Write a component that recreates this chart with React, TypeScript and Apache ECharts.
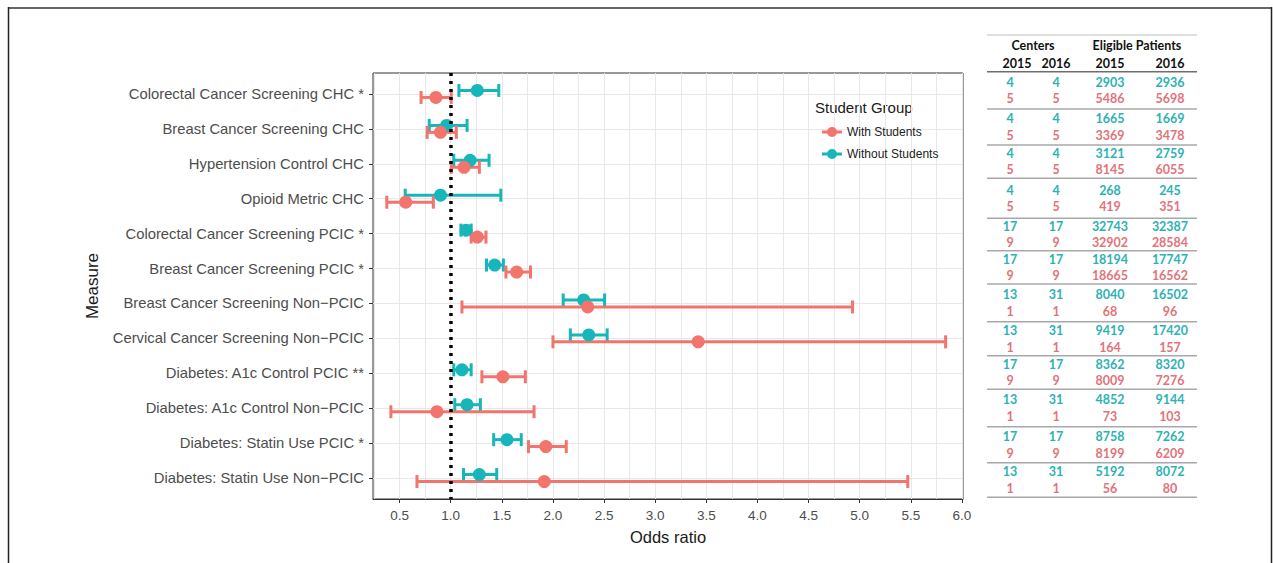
import React, { useEffect, useRef } from "react";
import * as echarts from "echarts";

// ---------- data ----------
const categories = [
  "Colorectal Cancer Screening CHC *",
  "Breast Cancer Screening CHC",
  "Hypertension Control CHC",
  "Opioid Metric CHC",
  "Colorectal Cancer Screening PCIC *",
  "Breast Cancer Screening PCIC *",
  "Breast Cancer Screening Non\u2212PCIC",
  "Cervical Cancer Screening Non\u2212PCIC",
  "Diabetes: A1c Control PCIC **",
  "Diabetes: A1c Control Non\u2212PCIC",
  "Diabetes: Statin Use PCIC *",
  "Diabetes: Statin Use Non\u2212PCIC",
];

const withOR = [0.855, 0.9, 1.13, 0.56, 1.26, 1.645, 2.34, 3.42, 1.51, 0.865, 1.93, 1.915];
const withLo = [0.71, 0.77, 1.005, 0.375, 1.2, 1.54, 1.11, 2.0, 1.305, 0.415, 1.76, 0.67];
const withHi = [1.005, 1.055, 1.28, 0.83, 1.345, 1.78, 4.93, 5.84, 1.73, 1.815, 2.13, 5.47];

const withoutOR = [1.26, 0.96, 1.19, 0.9, 1.15, 1.43, 2.3, 2.35, 1.11, 1.16, 1.55, 1.28];
const withoutLo = [1.08, 0.79, 1.03, 0.555, 1.1, 1.35, 2.1, 2.17, 1.03, 1.04, 1.42, 1.125];
const withoutHi = [1.47, 1.16, 1.375, 1.49, 1.2, 1.515, 2.505, 2.53, 1.2, 1.29, 1.69, 1.45];

const xTicks = [0.5, 1.0, 1.5, 2.0, 2.5, 3.0, 3.5, 4.0, 4.5, 5.0, 5.5, 6.0];
const xGridValues = [0.25, 0.5, 0.75, 1.0, 1.25, 1.5, 1.75, 2.0, 2.25, 2.5, 2.75, 3.0, 3.25, 3.5, 3.75, 4.0, 4.25, 4.5, 4.75, 5.0, 5.25, 5.5, 5.75, 6.0];

// table
const tableHeaderGroups = ["Centers", "Eligible Patients"];
const tableHeaderYears = ["2015", "2016", "2015", "2016"];
const centers2015Without = [4, 4, 4, 4, 17, 17, 13, 13, 17, 13, 17, 13];
const centers2016Without = [4, 4, 4, 4, 17, 17, 31, 31, 17, 31, 17, 31];
const patients2015Without = [2903, 1665, 3121, 268, 32743, 18194, 8040, 9419, 8362, 4852, 8758, 5192];
const patients2016Without = [2936, 1669, 2759, 245, 32387, 17747, 16502, 17420, 8320, 9144, 7262, 8072];
const centers2015With = [5, 5, 5, 5, 9, 9, 1, 1, 9, 1, 9, 1];
const centers2016With = [5, 5, 5, 5, 9, 9, 1, 1, 9, 1, 9, 1];
const patients2015With = [5486, 3369, 8145, 419, 32902, 18665, 68, 164, 8009, 73, 8199, 56];
const patients2016With = [5698, 3478, 6055, 351, 28584, 16562, 96, 157, 7276, 103, 6209, 80];

// ---------- layout / style ----------
const RED = "#F2746C";
const TEAL = "#17B6BA";
const RED_T = "#E2737A";
const TEAL_T = "#2DB2B4";
const DODGE = 0.1;
const CAP = 6.5;

const TABLE_LEFT = 987;
const TABLE_RIGHT = 1197;
const TABLE_TOP_RULE = 35;
const TABLE_HEAD_RULE = 71.7;
const TABLE_RULES = [109, 145, 178.3, 218.3, 250.7, 284, 321.7, 355.7, 389.3, 426.7, 462.7, 497.3];
const TABLE_COLS = [1010, 1056, 1110, 1170];
const TABLE_HEAD_COLS = [1017, 1056, 1110, 1170];
const TABLE_GROUP_X = [1033, 1137];

function errorBarSeries(name: string, lo: number[], hi: number[], color: string, offset: number) {
  return {
    name,
    type: "custom",
    xAxisIndex: 0,
    yAxisIndex: 0,
    z: 3,
    data: lo.map((l, i) => [l, hi[i], i + offset]),
    encode: { x: [0, 1], y: 2 },
    renderItem: (params: any, api: any) => {
      const a = api.coord([api.value(0), api.value(2)]);
      const b = api.coord([api.value(1), api.value(2)]);
      const st = { stroke: color, lineWidth: 3 };
      return {
        type: "group",
        children: [
          { type: "line", shape: { x1: a[0], y1: a[1], x2: b[0], y2: b[1] }, style: st },
          { type: "line", shape: { x1: a[0], y1: a[1] - CAP, x2: a[0], y2: a[1] + CAP }, style: st },
          { type: "line", shape: { x1: b[0], y1: b[1] - CAP, x2: b[0], y2: b[1] + CAP }, style: st },
        ],
      };
    },
  };
}

function buildTable() {
  const els: any[] = [];
  const numFont = { fontFamily: "Lato", fontWeight: "bold", fontSize: 12.5 };
  const headFont = { fontFamily: "Lato", fontWeight: "bold", fontSize: 12.5 };
  const line = (y: number, stroke: string, w: number) => ({
    type: "line",
    shape: { x1: TABLE_LEFT, y1: y, x2: TABLE_RIGHT, y2: y },
    style: { stroke, lineWidth: w },
  });
  els.push(line(TABLE_TOP_RULE, "#bdbdbd", 1));
  els.push(line(TABLE_HEAD_RULE, "#6e6e6e", 1.5));
  TABLE_RULES.forEach((y) => els.push(line(y, "#a8a8a8", 1.5)));
  tableHeaderGroups.forEach((t, i) =>
    els.push({
      type: "text",
      style: { text: t, x: TABLE_GROUP_X[i], y: 45, align: "center", verticalAlign: "middle", fill: "#111", ...headFont },
    })
  );
  tableHeaderYears.forEach((t, i) =>
    els.push({
      type: "text",
      style: { text: t, x: TABLE_HEAD_COLS[i], y: 63, align: "center", verticalAlign: "middle", fill: "#111", ...headFont },
    })
  );
  const rowsWithout = [centers2015Without, centers2016Without, patients2015Without, patients2016Without];
  const rowsWith = [centers2015With, centers2016With, patients2015With, patients2016With];
  categories.forEach((_, r) => {
    const prev = r === 0 ? TABLE_HEAD_RULE : TABLE_RULES[r - 1];
    const mid = (prev + TABLE_RULES[r]) / 2;
    rowsWithout.forEach((col, c) =>
      els.push({
        type: "text",
        style: { text: String(col[r]), x: TABLE_COLS[c], y: mid - 8.3, align: "center", verticalAlign: "middle", fill: TEAL_T, ...numFont },
      })
    );
    rowsWith.forEach((col, c) =>
      els.push({
        type: "text",
        style: { text: String(col[r]), x: TABLE_COLS[c], y: mid + 8.3, align: "center", verticalAlign: "middle", fill: RED_T, ...numFont },
      })
    );
  });
  return els;
}

export default function App() {
  const ref = useRef<HTMLDivElement>(null);
  useEffect(() => {
    document.body.style.margin = "0";
    const chart = echarts.init(ref.current!, null, { renderer: "svg" });
    const legendIcon =
      "path://M0,3.5 L20,3.5 L20,6.5 L0,6.5 Z M15,5 A5,5 0 1,1 5,5 A5,5 0 1,1 15,5 Z";
    chart.setOption({
      animation: false,
      backgroundColor: "#fff",
      textStyle: { fontFamily: "Liberation Sans" },
      grid: {
        left: 373,
        right: 1273 - 963,
        top: 73,
        bottom: 563 - 499,
        show: true,
        borderColor: "#333",
        borderWidth: 1,
        backgroundColor: "#fff",
      },
      xAxis: [
        {
          type: "value",
          min: 0.24,
          max: 6.01,
          position: "bottom",
          axisLine: { show: false },
          axisTick: { show: false, customValues: xGridValues },
          axisLabel: { show: false },
          splitLine: { show: true, lineStyle: { color: "#E8E8E8", width: 1 } },
        },
        {
          type: "value",
          min: 0.24,
          max: 6.01,
          position: "bottom",
          name: "Odds ratio",
          nameLocation: "middle",
          nameGap: 29,
          nameTextStyle: { fontSize: 16.5, color: "#1a1a1a", fontFamily: "Liberation Sans" },
          axisLine: { show: true, onZero: false, lineStyle: { color: "#333", width: 1 } },
          axisTick: { show: true, length: 4, customValues: xTicks, lineStyle: { color: "#333" } },
          axisLabel: {
            show: true,
            customValues: xTicks,
            margin: 9,
            fontSize: 13.5,
            color: "#4D4D4D",
            formatter: (v: number) => v.toFixed(1),
          },
          splitLine: { show: false },
        },
      ],
      yAxis: {
        type: "value",
        min: -0.6,
        max: 11.6,
        inverse: true,
        name: "Measure",
        nameLocation: "middle",
        nameGap: 272,
        nameRotate: 90,
        nameTextStyle: { fontSize: 17, color: "#1a1a1a", fontFamily: "Liberation Sans" },
        axisLine: { show: false },
        axisTick: { show: true, length: 4, customValues: categories.map((_, i) => i), lineStyle: { color: "#333" } },
        axisLabel: {
          customValues: categories.map((_, i) => i),
          margin: 9,
          fontSize: 14.8,
          color: "#4D4D4D",
          formatter: (v: number) => categories[Math.round(v)] ?? "",
        },
        splitLine: { show: true, lineStyle: { color: "#E8E8E8", width: 1 } },
      },
      legend: {
        left: 817,
        top: 120,
        orient: "vertical",
        itemWidth: 20,
        itemHeight: 10,
        itemGap: 8,
        icon: legendIcon,
        data: [
          { name: "With Students", itemStyle: { color: RED } },
          { name: "Without Students", itemStyle: { color: TEAL } },
        ],
        textStyle: { fontSize: 12, color: "#222", fontFamily: "Liberation Sans", lineHeight: 14 },
        selectedMode: false,
      },
      series: [
        errorBarSeries("Without Students", withoutLo, withoutHi, TEAL, -DODGE),
        errorBarSeries("With Students", withLo, withHi, RED, DODGE),
        {
          name: "Without Students",
          type: "scatter",
          symbol: "circle",
          symbolSize: 13,
          z: 4,
          itemStyle: { color: TEAL, opacity: 1 },
          data: withoutOR.map((v, i) => [v, i - DODGE]),
        },
        {
          name: "With Students",
          type: "scatter",
          symbol: "circle",
          symbolSize: 13,
          z: 5,
          itemStyle: { color: RED, opacity: 1 },
          data: withOR.map((v, i) => [v, i + DODGE]),
          markLine: {
            silent: true,
            symbol: "none",
            z: 10,
            label: { show: false },
            lineStyle: { color: "#000", type: [3, 5], width: 3.5, cap: "butt" },
            data: [{ xAxis: 1 }],
          },
        },
      ],
      graphic: [
        {
          type: "text",
          style: {
            text: "Student Group",
            x: 815,
            y: 107,
            verticalAlign: "middle",
            fill: "#1a1a1a",
            fontSize: 15,
            fontFamily: "Liberation Sans",
          },
        },
        { type: "line", shape: { x1: 8, y1: 8, x2: 1272, y2: 8 }, style: { stroke: "#666", lineWidth: 2 } },
        { type: "line", shape: { x1: 8.5, y1: 7, x2: 8.5, y2: 563 }, style: { stroke: "#222", lineWidth: 1.5 } },
        { type: "line", shape: { x1: 1271.5, y1: 7, x2: 1271.5, y2: 563 }, style: { stroke: "#222", lineWidth: 1.5 } },
        ...buildTable(),
      ],
    });
    return () => chart.dispose();
  }, []);
  return <div ref={ref} style={{ width: 1273, height: 563 }} />;
}
